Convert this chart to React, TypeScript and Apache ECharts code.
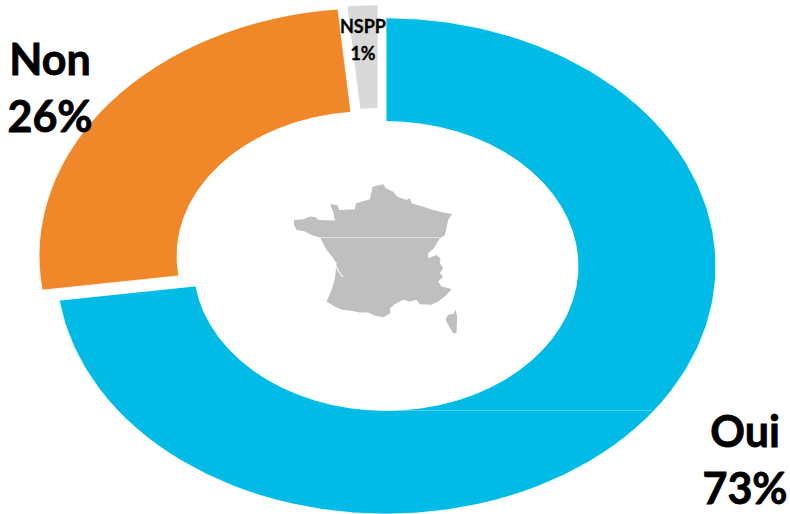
import React, { useEffect, useRef } from "react";
import * as echarts from "echarts";

const names = ["Oui", "Non", "NSPP"];
const shares = [72.8, 25.7, 1.5];
const percentLabels = ["73%", "26%", "1%"];
const colors = ["#00BBE6", "#F0882A", "#D9D9D9"];

const FRANCE =
  "M42 150L70 148L90 140L108 142L115 150L165 152L160 125L150 103L172 105L178 120L225 118L228 100L270 88L278 50L310 43L318 55L340 65L352 80L380 90L390 85L395 100L430 110L460 120L490 128L517 132L505 150L500 175L495 195L480 205L462 235L445 250L445 265L470 255L482 265L480 280L490 295L480 310L490 320L475 335L485 350L515 357L500 375L475 395L455 405L420 403L410 390L390 395L370 390L345 403L330 415L332 430L310 442L285 438L265 428L240 428L210 422L185 420L160 408L140 395L155 360L165 325L170 280L160 265L140 240L120 203L95 195L75 185L50 180L42 165Z" +
  "M527 420L532 440L530 490L520 490L505 465L497 450L505 435L522 432Z";

echarts.graphic.registerShape("france", echarts.graphic.extendPath(FRANCE, {}) as any);

const CX = 386;
const CY = 266;
const RX = 330;
const RY = 248;
const INNER_RX = 192;
const SLICE_SHIFT = [[0, 0], [-17, -10], [-8, -13]];
const LABEL_POS = [
  { x: 745, y1: 430, y2: 487, size: 43 },
  { x: 50, y1: 58, y2: 115, size: 43 },
  { x: 363, y1: 26, y2: 53, size: 18 },
];
const FONT = "Lato, 'Open Sans', sans-serif";

export default function App() {
  const ref = useRef<HTMLDivElement>(null);
  useEffect(() => {
    document.body.style.margin = "0";
    const chart = echarts.init(ref.current!, undefined, { renderer: "svg" });
    const total = shares.reduce((a, b) => a + b, 0);
    const labels: any[] = [];
    names.forEach((n, i) => {
      const p = LABEL_POS[i];
      [[n, p.y1], [percentLabels[i], p.y2]].forEach(([t, y]) => {
        labels.push({
          type: "text",
          x: p.x,
          y: y as number,
          z: 100,
          style: {
            text: t as string,
            fill: "#000",
            stroke: "#000",
            lineWidth: p.size > 30 ? 0.8 : 0.3,
            font: `bold ${p.size}px ${FONT}`,
            textAlign: "center",
            textVerticalAlign: "middle",
          },
        });
      });
    });
    chart.setOption({
      animation: false,
      backgroundColor: "#fff",
      series: [
        {
          type: "custom",
          coordinateSystem: "none",
          data: shares.map((v, i) => ({ name: names[i], value: v })),
          renderItem: (params: any, api: any) => {
            const i = params.dataIndex;
            const before = shares.slice(0, i).reduce((a, b) => a + b, 0);
            const start = -Math.PI / 2 + (before / total) * Math.PI * 2;
            const end = start + (api.value(0) / total) * Math.PI * 2;
            const [dx, dy] = SLICE_SHIFT[i];
            return {
              type: "sector",
              x: CX + dx,
              y: CY + dy,
              scaleX: 1,
              scaleY: RY / RX,
              shape: { cx: 0, cy: 0, r0: INNER_RX, r: RX, startAngle: start, endAngle: end, clockwise: true },
              style: { fill: colors[i], stroke: "#fff", lineWidth: 1 },
            };
          },
        },
      ],
      graphic: [
        { type: "line", z: 50, shape: { x1: 386, y1: 410.5, x2: 652, y2: 410.5 }, style: { stroke: "rgba(255,255,255,0.3)", lineWidth: 1 } },
        { type: "france", x: 280, y: 170, scaleX: 1 / 3, scaleY: 1 / 3, z: 50, style: { fill: "#BFBFBF" } },
        { type: "line", z: 51, shape: { x1: 320, y1: 237.5, x2: 442, y2: 237.5 }, style: { stroke: "#DEDEDE", lineWidth: 1 } },
        { type: "polyline", z: 51, shape: { points: [[336, 266], [339, 272], [343, 277]] }, style: { stroke: "#fff", lineWidth: 1.2, fill: "none" } },
        ...labels,
      ],
    });
    return () => chart.dispose();
  }, []);
  return <div ref={ref} style={{ width: 790, height: 514 }} />;
}
